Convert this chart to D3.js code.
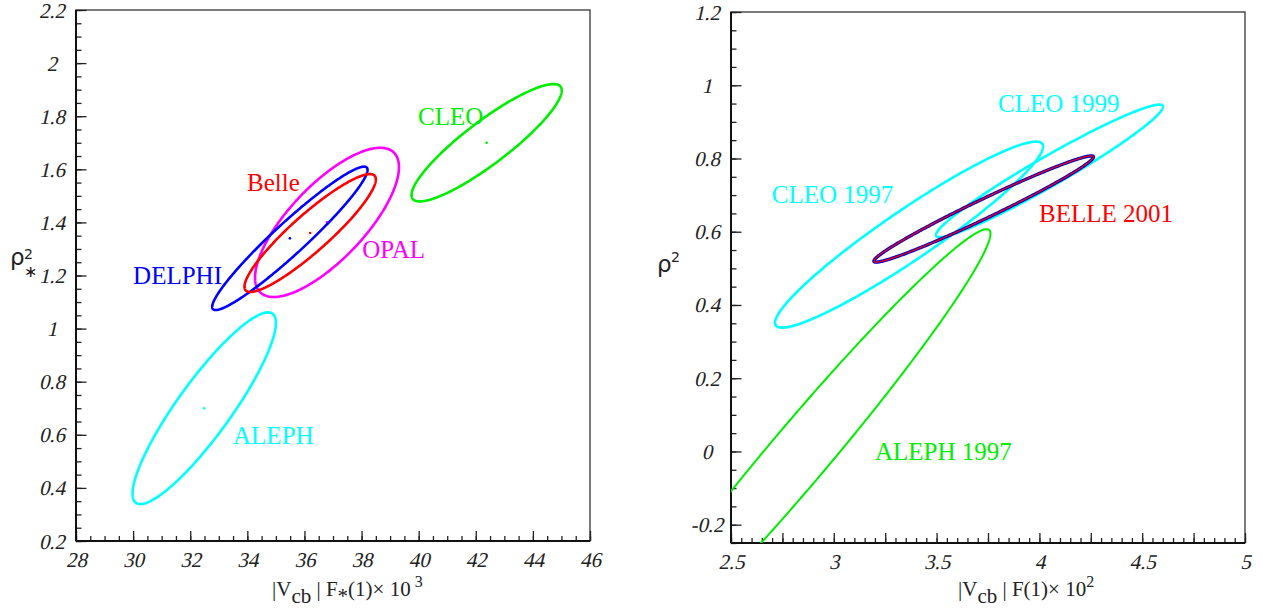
<!DOCTYPE html>
<html>
<head>
<meta charset="utf-8">
<script src="https://cdn.jsdelivr.net/npm/d3@7"></script>
<style>
  body { margin: 0; background: #fff; }
  svg { display: block; }
  .lbl { font-family: "Liberation Serif", "Times New Roman", serif; font-size: 25px; }
  .ttl { font-family: "Liberation Serif", "Times New Roman", serif; font-size: 21px; fill: #222; }
  .rho { font-family: "DejaVu Sans", sans-serif; fill: #222; }
</style>
</head>
<body>
<svg id="chart" width="1263" height="615"></svg>
<script>
// left plot: |Vcb| F*(1) x 10^3 vs rho*^2  (1 sigma ellipses)
const leftNames = ["CLEO", "OPAL", "DELPHI", "Belle", "ALEPH"];
const leftColors = ["#00ee00", "#ff00ff", "#0000ff", "#ff0000", "#00ffff"];
const leftCx = [42.38, 36.79, 35.49, 36.20, 32.49];
const leftCy = [1.70, 1.40, 1.34, 1.36, 0.70];
const leftSx = [2.63, 2.52, 2.72, 2.30, 2.51];
const leftSy = [0.221, 0.281, 0.270, 0.222, 0.361];
const leftCorr = [0.89, 0.74, 0.955, 0.91, 0.89];
const leftLabelX = [39.98, 38.02, 30.0, 33.99, 33.5];
const leftLabelY = [1.767, 1.266, 1.168, 1.518, 0.565];

// right plot: |Vcb| F(1) x 10^2 vs rho^2
const rightNames = ["ALEPH 1997", "CLEO 1997", "CLEO 1999", "BELLE 2001"];
const rightColors = ["#00ee00", "#00ffff", "#00ffff", "#ff0000"];
const rightCx = [2.836, 3.366, 4.049, 3.729];
const rightCy = [-0.006, 0.592, 0.766, 0.662];
const rightSx = [0.926, 0.652, 0.552, 0.534];
const rightSy = [0.613, 0.254, 0.181, 0.145];
const rightCorr = [0.9795, 0.947, 0.967, 0.98];
const rightLabelX = [3.2, 2.698, 3.799, 3.998];
const rightLabelY = [-0.024, 0.679, 0.927, 0.627];

const svg = d3.select("#chart");
const serif = "'Liberation Serif', 'Times New Roman', serif";

const stepValues = (lo, hi, step) =>
  d3.range(0, Math.round((hi - lo) / step) + 1).map((i) => +(lo + i * step).toFixed(4));

const fmt = (v) => String(+v.toFixed(2));

const ellipsePoints = (cx, cy, sx, sy, r) =>
  d3.range(0, 361, 1).map((a) => {
    const t = (a * Math.PI) / 180;
    return [cx + sx * Math.cos(t), cy + sy * (r * Math.cos(t) + Math.sqrt(1 - r * r) * Math.sin(t))];
  });

// italic look done with a skew so it does not depend on an italic face being installed
const slantLabels = (axisG, tx, ty) =>
  axisG.selectAll(".tick text")
    .attr("x", 0).attr("y", 0)
    .attr("transform", `translate(${tx},${ty}) skewX(-13)`)
    .attr("text-anchor", "middle")
    .attr("fill", "#222")
    .style("font-family", serif)
    .style("font-size", "21px");

const drawPanel = (p) => {
  const g = svg.append("g");
  const x = d3.scaleLinear().domain(p.xDomain).range([p.left, p.right]);
  const y = d3.scaleLinear().domain(p.yDomain).range([p.bottom, p.top]);

  // frame
  g.append("rect")
    .attr("x", p.left).attr("y", p.top)
    .attr("width", p.right - p.left).attr("height", p.bottom - p.top)
    .attr("fill", "none").attr("stroke", "#444").attr("stroke-width", 1.4);

  // minor ticks
  g.append("g").attr("transform", `translate(0,${p.bottom})`)
    .call(d3.axisBottom(x).tickValues(stepValues(p.xDomain[0], p.xDomain[1], p.xMinor)).tickSize(-5).tickFormat(""))
    .call((a) => a.select(".domain").remove());
  g.append("g").attr("transform", `translate(${p.left},0)`)
    .call(d3.axisLeft(y).tickValues(stepValues(p.yDomain[0], p.yDomain[1], p.yMinor)).tickSize(-5.5).tickFormat(""))
    .call((a) => a.select(".domain").remove());

  // major ticks + labels
  g.append("g").attr("transform", `translate(0,${p.bottom})`)
    .call(d3.axisBottom(x).tickValues(stepValues(p.xDomain[0], p.xDomain[1], p.xMajor)).tickSize(-10)
      .tickFormat((v) => (Math.abs(v / p.xLabelStep - Math.round(v / p.xLabelStep)) < 1e-6 ? fmt(v) : "")))
    .call((a) => a.select(".domain").remove())
    .call((a) => slantLabels(a, 0, 26).attr("dy", null));
  g.append("g").attr("transform", `translate(${p.left},0)`)
    .call(d3.axisLeft(y).tickValues(stepValues(p.yMajorStart, p.yDomain[1], p.yMajor)).tickSize(-10.5).tickFormat(fmt))
    .call((a) => a.select(".domain").remove())
    .call((a) => slantLabels(a, -24, 7).attr("dy", null));

  g.selectAll(".tick line").attr("stroke", "#222").attr("stroke-width", 1.3);

  // axis lines
  g.append("line").attr("x1", p.left).attr("x2", p.right).attr("y1", p.bottom).attr("y2", p.bottom)
    .attr("stroke", "#111").attr("stroke-width", 2);
  g.append("line").attr("x1", p.left).attr("x2", p.left).attr("y1", p.top).attr("y2", p.bottom)
    .attr("stroke", "#111").attr("stroke-width", 2);

  const clipId = `clip-${p.id}`;
  svg.append("clipPath").attr("id", clipId)
    .append("rect").attr("x", p.left).attr("y", p.top)
    .attr("width", p.right - p.left).attr("height", p.bottom - p.top);

  const line = d3.line().x((d) => x(d[0])).y((d) => y(d[1])).curve(d3.curveLinearClosed);
  const plot = g.append("g").attr("clip-path", `url(#${clipId})`);

  return { g, x, y, line, plot };
};

// ---- left panel
const left = drawPanel({
  id: "left", left: 76, right: 590, top: 10, bottom: 541,
  xDomain: [28, 46], yDomain: [0.2, 2.2], yMajorStart: 0.2,
  xMajor: 2, xMinor: 0.5, xLabelStep: 2, yMajor: 0.2, yMinor: 0.05,
});

leftNames.forEach((name, i) => {
  const pts = ellipsePoints(leftCx[i], leftCy[i], leftSx[i], leftSy[i], leftCorr[i]);
  left.plot.append("path").attr("d", left.line(pts))
    .attr("fill", "none").attr("stroke", leftColors[i]).attr("stroke-width", 2.6);
  left.plot.append("circle").attr("cx", left.x(leftCx[i])).attr("cy", left.y(leftCy[i]))
    .attr("r", 1.3).attr("fill", leftColors[i]);
  left.g.append("text").attr("class", "lbl")
    .attr("x", left.x(leftLabelX[i])).attr("y", left.y(leftLabelY[i]))
    .attr("fill", leftColors[i]).text(name);
});

// ---- right panel
const right = drawPanel({
  id: "right", left: 731, right: 1245, top: 12, bottom: 543,
  xDomain: [2.5, 5], yDomain: [-0.25, 1.2], yMajorStart: -0.2,
  xMajor: 0.25, xMinor: 0.05, xLabelStep: 0.5, yMajor: 0.2, yMinor: 0.05,
});

rightNames.forEach((name, i) => {
  const pts = ellipsePoints(rightCx[i], rightCy[i], rightSx[i], rightSy[i], rightCorr[i]);
  if (name === "BELLE 2001") {
    right.plot.append("path").attr("d", right.line(pts))
      .attr("fill", "none").attr("stroke", "#0000cc").attr("stroke-width", 3.4);
    right.plot.append("path").attr("d", right.line(pts))
      .attr("fill", "none").attr("stroke", "#ff0000").attr("stroke-width", 1.2);
  } else {
    right.plot.append("path").attr("d", right.line(pts))
      .attr("fill", "none").attr("stroke", rightColors[i]).attr("stroke-width", name === "ALEPH 1997" ? 2 : 2.6);
  }
  right.g.append("text").attr("class", "lbl")
    .attr("x", right.x(rightLabelX[i])).attr("y", right.y(rightLabelY[i]))
    .attr("fill", rightColors[i]).text(name);
});

// ---- axis titles
const xTitle = (x0, yb, parts) => {
  const t = svg.append("text").attr("class", "ttl").attr("x", x0).attr("y", yb);
  let shift = 0;
  parts.forEach(([str, kind]) => {
    const want = kind === "sub" ? 7 : kind === "sup" ? -9 : 0;
    const ts = t.append("tspan").attr("dy", want - shift).text(str);
    if (kind === "sup") ts.attr("font-size", "16px");
    shift = want;
  });
};
xTitle(272, 596, [["|V", ""], ["cb", "sub"], [" | F", ""], ["*", "sub"], ["(1)× 10", ""], [" 3", "sup"]]);
xTitle(958, 596, [["|V", ""], ["cb", "sub"], [" | F(1)× 10", ""], ["2", "sup"]]);

svg.append("text").attr("class", "rho").attr("x", 10).attr("y", 265).attr("font-size", "23px").text("ρ");
svg.append("text").attr("class", "rho").attr("x", 24).attr("y", 259).attr("font-size", "14px").text("2");
svg.append("text").attr("class", "rho").attr("x", 24).attr("y", 277).attr("font-size", "16px").text("∗");
svg.append("text").attr("class", "rho").attr("x", 657).attr("y", 272).attr("font-size", "23px").text("ρ");
svg.append("text").attr("class", "rho").attr("x", 671).attr("y", 262).attr("font-size", "14px").text("2");
</script>
</body>
</html>
